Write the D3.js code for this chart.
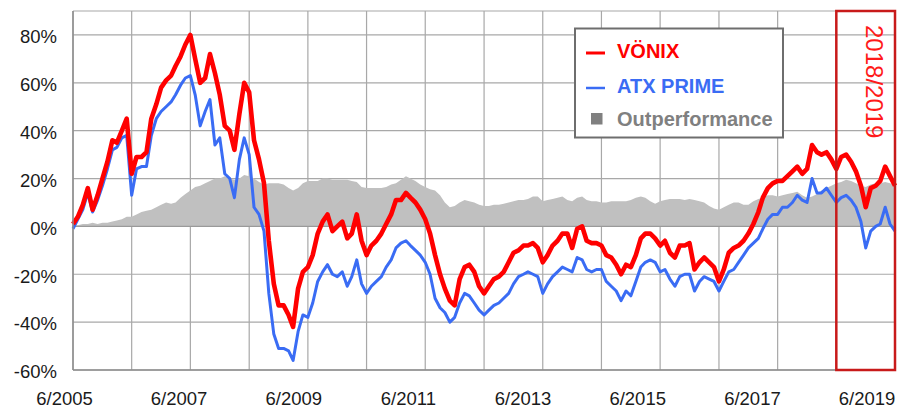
<!DOCTYPE html>
<html>
<head>
<meta charset="utf-8">
<script src="https://cdn.jsdelivr.net/npm/d3@7"></script>
<style>
  html, body { margin: 0; padding: 0; background: #fff; }
  svg { display: block; font-family: Arial, "Liberation Sans", sans-serif; }
</style>
</head>
<body>
<svg id="chart" width="909" height="410"></svg>
<script>
// ---- Data (monthly, 6/2005 .. 6/2019) ----
const startMonth = "2005-06";
const endMonth = "2019-06";

const vonix = [
  1, 4, 9, 16, 7, 13, 20, 27, 36, 35, 40, 45, 22, 29, 29, 31, 45, 51, 58, 61, 63, 67, 71, 76, 80,
  70, 60, 62, 72, 64, 55, 42, 40, 32, 47, 60, 56, 36, 28, 18, -6, -24, -33, -33, -37, -42, -26, -19, -17, -12, -3,
  2, 5, -2, 0, 2, -5, -3, 5, -6, -12, -8, -6, -3, 1, 5, 11, 11, 14, 12, 10, 7, 3, -3, -12, -20,
  -26, -31, -33, -22, -17, -16, -19, -25, -28, -25, -22, -21, -19, -15, -11, -10, -8, -8, -7, -9, -15, -12, -8, -6, -3,
  -3, -9, -1, 0, -6, -7, -7, -8, -12, -13, -16, -20, -16, -17, -12, -5, -3, -3, -5, -8, -6, -11, -13, -8, -8,
  -7, -18, -15, -13, -15, -17, -23, -18, -11, -9, -8, -6, -3, 1, 6, 12, 16, 18, 19, 19, 21, 23,
  25, 22, 24, 34, 31, 30, 31, 28, 24, 29, 30, 27, 23, 17, 8, 16, 17, 19, 25, 21, 17
];

const atxPrime = [
  -1, 3, 7, 14, 6, 11, 17, 24, 32, 33, 37, 38, 13, 24, 25, 25, 38, 45, 48, 50, 52, 55, 59, 62, 63,
  55, 42, 48, 53, 34, 37, 22, 20, 12, 28, 37, 30, 8, 5, -2, -28, -45, -51, -51, -52, -56, -44, -37, -38, -32, -23,
  -19, -16, -20, -21, -19, -25, -21, -14, -24, -28, -25, -23, -21, -17, -14, -9, -7, -6, -8, -10, -12, -15, -20, -30, -34,
  -36, -40, -38, -32, -28, -29, -32, -35, -37, -35, -33, -32, -30, -28, -24, -21, -20, -19, -20, -21, -28, -24, -21, -19, -17,
  -18, -19, -13, -14, -18, -19, -18, -18, -23, -25, -27, -31, -27, -29, -23, -17, -15, -14, -15, -19, -18, -22, -25, -21, -20,
  -20, -27, -23, -21, -22, -23, -27, -23, -19, -18, -15, -12, -9, -7, -5, -1, 3, 5, 5, 8, 8, 10,
  13, 11, 10, 20, 14, 14, 16, 13, 10, 12, 13, 11, 8, 2, -9, -2, 0, 1, 8, 1, -2
];

const outperformance = [
  0, 0.5, 1, 1, 1.5, 1, 1.5, 1.5, 2, 2.5, 3, 4, 4, 5, 6, 6.5, 7, 8, 9, 10, 9.5, 10, 12, 13.5, 15,
  16.5, 17, 18, 19, 20, 20, 21, 20, 19.5, 20, 21.5, 21, 20, 18.5, 17.5, 18, 18, 18, 17.5, 16, 15, 16, 18, 19, 19, 19,
  20, 20, 19.5, 19.5, 19.5, 19.5, 19, 18.5, 16.5, 16, 16, 16, 16, 16.5, 17.5, 18, 19.5, 21, 20, 19, 17.5, 16.5, 15.5, 15, 13,
  10, 8, 8.5, 10, 11, 10.5, 10, 9, 8.5, 8.5, 9, 9, 9.5, 10, 10.5, 11, 11, 11.5, 12.5, 12.5, 10.5, 11, 11.5, 12, 12.5,
  11, 10.5, 12, 12.5, 11, 10.5, 10.5, 10, 10, 10.5, 10.5, 10.5, 10.5, 11, 12, 12.5, 12, 10.5, 9.5, 10.5, 11, 11.5, 11.5, 11.5, 11,
  11.5, 11, 10.5, 10, 8.5, 7.5, 7, 8, 9, 10, 10, 9, 9, 10.5, 11.5, 12, 13, 13, 12.5, 13, 13.5, 14,
  14.5, 13, 12, 12.5, 13.5, 15, 16, 17, 18, 18.5, 19.5, 19, 18, 17, 16.5, 17.5, 18, 18, 18.5, 18, 17.5
];

const yTicks = [-60, -40, -20, 0, 20, 40, 60, 80];
const xTickLabels = ["6/2005", "6/2007", "6/2009", "6/2011", "6/2013", "6/2015", "6/2017", "6/2019"];
const gridYears = d3.range(2005, 2020);
const seriesNames = ["VÖNIX", "ATX PRIME", "Outperformance"];
const highlightLabel = "2018/2019";
const highlightRange = ["2018-06", "2019-06"];

// ---- Setup ----
const parseMonth = d3.timeParse("%Y-%m");
const dates = d3.timeMonth.range(parseMonth(startMonth), d3.timeMonth.offset(parseMonth(endMonth), 1));

const svg = d3.select("#chart");
const plot = { left: 73, right: 895, top: 11, bottom: 370 };

const x = d3.scaleTime().domain([parseMonth(startMonth), parseMonth(endMonth)]).range([plot.left, plot.right]);
const y = d3.scaleLinear().domain([-60, 90]).range([plot.bottom, plot.top]);
// label positions (labels sit slightly compressed relative to grid)
const xLabel = d3.scaleTime().domain(x.domain()).range([64, 866.5]);

const C = {
  red: "#ff0000",
  blue: "#3a6cf4",
  gray: "#c0c0c0",
  grid: "#a8a8a8",
  axis: "#8c8c8c",
  box: "#c81a1a"
};

// grid
const g = svg.append("g");
g.selectAll("line.vg").data(gridYears).join("line")
  .attr("x1", d => x(new Date(d, 5, 1))).attr("x2", d => x(new Date(d, 5, 1)))
  .attr("y1", plot.top).attr("y2", plot.bottom)
  .attr("stroke", C.grid).attr("stroke-width", 1.2);
g.selectAll("line.hg").data(yTicks.concat([90])).join("line")
  .attr("x1", plot.left).attr("x2", plot.right)
  .attr("y1", d => y(d)).attr("y2", d => y(d))
  .attr("stroke", C.grid).attr("stroke-width", 1.2);

// outperformance area
const area = d3.area().x((d, i) => x(dates[i])).y0(y(0)).y1(d => y(d));
svg.append("path").datum(outperformance).attr("d", area).attr("fill", C.gray);

// zero line
svg.append("line").attr("x1", plot.left).attr("x2", plot.right)
  .attr("y1", y(0)).attr("y2", y(0)).attr("stroke", "#9a9a9a").attr("stroke-width", 1.2);

// lines
const line = d3.line().x((d, i) => x(dates[i])).y(d => y(d));
svg.append("path").datum(atxPrime).attr("d", line)
  .attr("fill", "none").attr("stroke", C.blue).attr("stroke-width", 3).attr("stroke-linejoin", "round");
svg.append("path").datum(vonix).attr("d", line)
  .attr("fill", "none").attr("stroke", C.red).attr("stroke-width", 4.6).attr("stroke-linejoin", "round");

// axes lines
svg.append("line").attr("x1", plot.left).attr("x2", plot.left).attr("y1", plot.top).attr("y2", plot.bottom)
  .attr("stroke", C.axis).attr("stroke-width", 1.5);
svg.append("line").attr("x1", plot.left).attr("x2", plot.right).attr("y1", plot.bottom).attr("y2", plot.bottom)
  .attr("stroke", C.axis).attr("stroke-width", 1.5);

// y axis
const yAxis = svg.append("g").attr("transform", `translate(${plot.left},0)`)
  .call(d3.axisLeft(y).tickValues(yTicks).tickSize(0).tickPadding(16).tickFormat(d => d + "%"));
yAxis.select(".domain").remove();
yAxis.selectAll("text").attr("font-size", 18.5).attr("fill", "#1a1a1a")
  .attr("font-family", "Arial, 'Liberation Sans', sans-serif").attr("dy", "0.42em");

// x axis
const labelDates = xTickLabels.map(s => { const [m, yr] = s.split("/"); return new Date(+yr, +m - 1, 1); });
const xAxis = svg.append("g").attr("transform", `translate(0,${plot.bottom})`)
  .call(d3.axisBottom(xLabel).tickValues(labelDates).tickSize(0).tickPadding(0)
    .tickFormat((d, i) => xTickLabels[i]));
xAxis.select(".domain").remove();
xAxis.selectAll("text").attr("font-size", 18.5).attr("fill", "#1a1a1a")
  .attr("font-family", "Arial, 'Liberation Sans', sans-serif").attr("dy", "1.9em");

// highlight box
const bx0 = x(parseMonth(highlightRange[0])), bx1 = x(parseMonth(highlightRange[1]));
svg.append("rect").attr("x", bx0).attr("y", plot.top).attr("width", bx1 - bx0).attr("height", plot.bottom - plot.top)
  .attr("fill", "none").attr("stroke", C.box).attr("stroke-width", 2.5);
svg.append("text").attr("transform", `translate(${bx0 + 30},25) rotate(90)`)
  .attr("font-size", 24).attr("fill", "#ff1a1a").text(highlightLabel);

// legend
const lg = svg.append("g");
lg.append("rect").attr("x", 575).attr("y", 28.5).attr("width", 208).attr("height", 109)
  .attr("fill", "#fff").attr("stroke", "#6e6e6e").attr("stroke-width", 2);
const legendItems = [
  { name: seriesNames[0], color: C.red, type: "line", ty: 58 },
  { name: seriesNames[1], color: C.blue, type: "line", ty: 93 },
  { name: seriesNames[2], color: "#808080", type: "square", ty: 126 }
];
legendItems.forEach(it => {
  if (it.type === "line") {
    lg.append("line").attr("x1", 586).attr("x2", 605).attr("y1", it.ty - 5).attr("y2", it.ty - 5)
      .attr("stroke", it.color).attr("stroke-width", it.color === C.red ? 3 : 2.5);
  } else {
    lg.append("rect").attr("x", 591).attr("y", it.ty - 13).attr("width", 11.5).attr("height", 11.5)
      .attr("fill", "#808080");
  }
  lg.append("text").attr("x", 617).attr("y", it.ty).attr("font-size", 20).attr("font-weight", "bold")
    .attr("fill", it.color).text(it.name);
});
</script>
</body>
</html>
